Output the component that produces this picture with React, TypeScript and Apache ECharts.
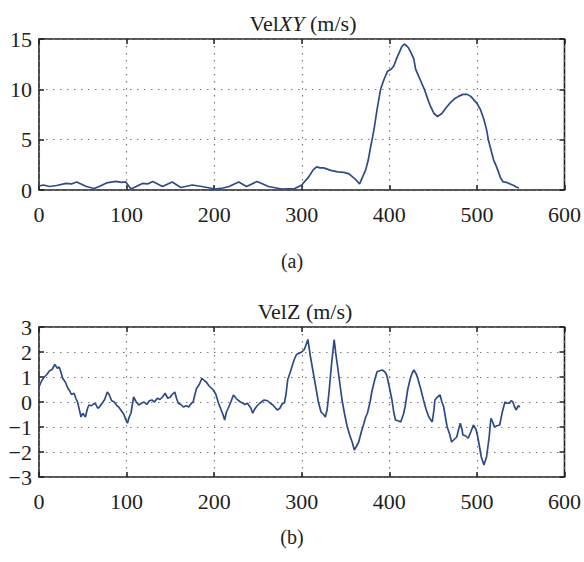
import React, { useEffect, useRef } from "react";
import * as echarts from "echarts";

// VelXY (m/s): [sample, value]
const velXYPoints: number[][] = [
  [0, 0.4], [5, 0.5], [12, 0.35], [20, 0.45], [31, 0.65], [37, 0.6], [43, 0.8], [48, 0.6], [54, 0.35], [63, 0.15],
  [70, 0.4], [77, 0.7], [88, 0.85], [94, 0.75], [99, 0.8], [105, 0.1], [111, 0.35], [118, 0.65], [124, 0.6], [130, 0.85],
  [141, 0.35], [152, 0.8], [162, 0.25], [175, 0.5], [186, 0.35], [201, 0.1], [210, 0.2], [217, 0.35], [228, 0.8], [237, 0.35],
  [249, 0.85], [262, 0.35], [277, 0.1], [292, 0.15], [300, 0.5], [308, 1.3], [313, 2.0], [317, 2.3], [321, 2.2], [325, 2.2],
  [333, 1.95], [341, 1.8], [348, 1.75], [354, 1.6], [358, 1.3], [362, 1.0], [366, 0.6], [370, 1.4], [373, 2.0], [376, 3.0],
  [378, 4.0], [381, 5.3], [383, 6.3], [386, 8.0], [390, 10.0], [394, 11.0], [398, 11.8], [402, 12.0], [405, 12.3], [408, 13.0],
  [411, 13.6], [414, 14.2], [417, 14.5], [420, 14.3], [422, 14.1], [425, 13.6], [428, 13.0], [430, 12.0], [435, 11.0], [440, 10.0],
  [444, 9.0], [447, 8.3], [451, 7.6], [455, 7.3], [460, 7.6], [465, 8.2], [470, 8.7], [475, 9.1], [479, 9.3], [484, 9.5],
  [489, 9.5], [493, 9.3], [496, 9.0], [500, 8.6], [504, 8.0], [508, 7.0], [511, 6.0], [513, 5.0], [516, 4.0], [519, 3.0],
  [522, 2.4], [525, 1.7], [527, 1.2], [530, 0.8], [534, 0.75], [538, 0.6], [542, 0.45], [545, 0.3], [548, 0.2],
];

// VelZ (m/s): [sample, value]
const velZPoints: number[][] = [
  [0, 0.6], [3, 0.85], [6, 1.0], [9, 1.1], [12, 1.25], [15, 1.3], [18, 1.5], [21, 1.35], [23, 1.4], [25, 1.2],
  [27, 0.95], [30, 0.8], [33, 0.55], [35, 0.45], [37, 0.3], [40, 0.35], [42, 0.15], [44, 0.0], [46, -0.3], [48, -0.6],
  [50, -0.45], [53, -0.6], [55, -0.3], [57, -0.12], [60, -0.15], [63, -0.05], [65, -0.1], [67, -0.25], [69, -0.2], [72, -0.05],
  [75, 0.1], [78, 0.4], [80, 0.3], [83, 0.05], [86, 0.0], [89, -0.15], [91, -0.2], [94, -0.35], [97, -0.5], [99, -0.7],
  [101, -0.85], [103, -0.6], [105, -0.45], [108, 0.2], [111, 0.0], [114, -0.12], [117, -0.05], [120, 0.0], [123, -0.1], [126, 0.05],
  [129, 0.08], [132, 0.0], [135, 0.15], [138, 0.1], [141, 0.2], [144, 0.35], [147, 0.15], [150, 0.2], [152, 0.3], [155, 0.4],
  [157, 0.15], [159, -0.05], [162, -0.1], [165, -0.2], [168, -0.15], [171, -0.2], [174, -0.05], [176, 0.0], [178, 0.3], [180, 0.55],
  [183, 0.7], [186, 0.95], [189, 0.85], [191, 0.8], [194, 0.65], [197, 0.55], [199, 0.48], [202, 0.3], [205, -0.05], [208, -0.32],
  [210, -0.5], [212, -0.72], [214, -0.4], [216, -0.25], [219, 0.0], [222, 0.28], [225, 0.15], [227, 0.08], [230, 0.0], [233, -0.05],
  [235, -0.1], [238, -0.05], [242, -0.25], [244, -0.45], [246, -0.3], [249, -0.15], [252, -0.05], [254, 0.0], [257, 0.08], [261, 0.05],
  [264, -0.05], [267, -0.12], [269, -0.2], [272, -0.32], [275, -0.25], [278, -0.05], [280, -0.05], [282, 0.3], [284, 0.9], [287, 1.2],
  [290, 1.55], [292, 1.75], [294, 1.9], [297, 1.95], [300, 2.0], [303, 2.1], [305, 2.3], [307, 2.5], [310, 1.8], [313, 1.2],
  [316, 0.6], [319, 0.0], [322, -0.4], [325, -0.5], [327, -0.6], [329, -0.3], [331, 0.35], [334, 1.5], [337, 2.5], [339, 1.9],
  [341, 1.4], [344, 0.6], [346, 0.08], [349, -0.5], [352, -1.0], [355, -1.35], [358, -1.65], [360, -1.92], [362, -1.8], [365, -1.6],
  [368, -1.2], [371, -0.85], [373, -0.6], [375, -0.45], [378, 0.0], [380, 0.41], [383, 0.85], [386, 1.21], [389, 1.25], [392, 1.28],
  [395, 1.2], [397, 1.08], [400, 0.6], [403, 0.08], [405, -0.4], [407, -0.72], [410, -0.75], [413, -0.8], [416, -0.5], [418, -0.19],
  [421, 0.5], [424, 0.95], [426, 1.15], [428, 1.28], [431, 1.1], [433, 0.88], [436, 0.5], [439, 0.08], [442, -0.3], [445, -0.59],
  [447, -0.7], [449, -0.8], [451, -0.3], [452, 0.08], [455, 0.2], [458, 0.28], [460, 0.0], [462, -0.19], [464, -0.6], [466, -1.0],
  [469, -1.3], [471, -1.6], [474, -1.5], [477, -1.4], [479, -1.1], [481, -0.85], [483, -1.1], [484, -1.32], [487, -1.35], [490, -1.45],
  [493, -1.2], [496, -0.92], [499, -1.1], [501, -1.4], [503, -1.8], [505, -2.2], [508, -2.52], [511, -2.2], [514, -1.4], [516, -0.65],
  [518, -0.8], [520, -1.0], [523, -0.95], [526, -0.92], [529, -0.4], [532, 0.0], [534, -0.05], [537, -0.05], [539, 0.05], [541, 0.01],
  [543, -0.2], [545, -0.32], [547, -0.15], [549, -0.2],
];

const xRange = { min: 0, max: 600, interval: 100 };
const xyRange = { min: 0, max: 15, interval: 5 };
const zRange = { min: -3, max: 3, interval: 1 };

const titleXY = "{a|Vel}{b|XY}{a| (m/s)}";
const titleZ = "VelZ (m/s)";
const captionA = "(a)";
const captionB = "(b)";

const FONT = "Liberation Serif";
const LINE = "#2f4b86";
const INK = "#1e1e1e";

export default function App() {
  const ref = useRef<HTMLDivElement>(null);
  useEffect(() => {
    if (!ref.current) return;
    const chart = echarts.init(ref.current, undefined, { renderer: "svg" });
    const tick = { show: true, inside: true, length: 5, lineStyle: { color: INK, width: 1.5 } };
    const split = { show: true, lineStyle: { color: "#7a7a7a", type: [1.5, 5.5] as any, width: 1.2 } };
    const label = { fontFamily: FONT, fontSize: 22, color: INK };
    const fmt = (v: number) => (v < 0 ? "\u2212" + Math.abs(v) : String(v));
    const mainX = (grid: number) => ({
      type: "value", gridIndex: grid, ...xRange, position: "bottom",
      axisLine: { show: false, onZero: false }, axisTick: tick, splitLine: split,
      axisLabel: { ...label, margin: 13, formatter: fmt },
    });
    const topX = (grid: number) => ({
      type: "value", gridIndex: grid, ...xRange, position: "top",
      axisLine: { show: false, onZero: false }, axisTick: tick, splitLine: { show: false }, axisLabel: { show: false },
    });
    const mainY = (grid: number, r: any) => ({
      type: "value", gridIndex: grid, ...r, position: "left",
      axisLine: { show: false, onZero: false }, axisTick: tick, splitLine: split,
      axisLabel: { ...label, margin: 7, formatter: fmt },
    });
    const rightY = (grid: number, r: any) => ({
      type: "value", gridIndex: grid, ...r, position: "right",
      axisLine: { show: false, onZero: false }, axisTick: tick, splitLine: { show: false }, axisLabel: { show: false },
    });
    const gridStyle = { show: true, borderColor: INK, borderWidth: 1.6, backgroundColor: "transparent" };
    const textStyle = (x: number, y: number, text: string, extra: any = {}) => ({
      type: "text", x, y,
      style: { text, fontFamily: FONT, fontSize: 22, fill: INK, textAlign: "center", textVerticalAlign: "middle", ...extra },
    });
    chart.setOption({
      animation: false,
      grid: [
        { left: 39, top: 39, width: 529, height: 151, ...gridStyle },
        { left: 39, top: 327, width: 529, height: 150, ...gridStyle },
      ],
      xAxis: [mainX(0), topX(0), mainX(1), topX(1)],
      yAxis: [mainY(0, xyRange), rightY(0, xyRange), mainY(1, zRange), rightY(1, zRange)],
      series: [
        {
          type: "line", xAxisIndex: 0, yAxisIndex: 0, showSymbol: false,
          lineStyle: { color: LINE, width: 1.7 },
          data: velXYPoints,
        },
        {
          type: "line", xAxisIndex: 2, yAxisIndex: 2, showSymbol: false,
          lineStyle: { color: LINE, width: 1.7 },
          data: velZPoints,
        },
      ],
      graphic: [
        textStyle(303, 23, titleXY, {
          rich: {
            a: { fontFamily: FONT, fontSize: 22, fill: INK },
            b: { fontFamily: FONT, fontSize: 22, fill: INK, fontStyle: "italic" },
          },
        }),
        textStyle(292, 261, captionA, { fontSize: 20 }),
        textStyle(305, 311, titleZ),
        textStyle(292, 537, captionB, { fontSize: 20 }),
      ],
    });
    return () => chart.dispose();
  }, []);
  return <div ref={ref} style={{ position: "absolute", left: 0, top: 0, width: 584, height: 562 }} />;
}
